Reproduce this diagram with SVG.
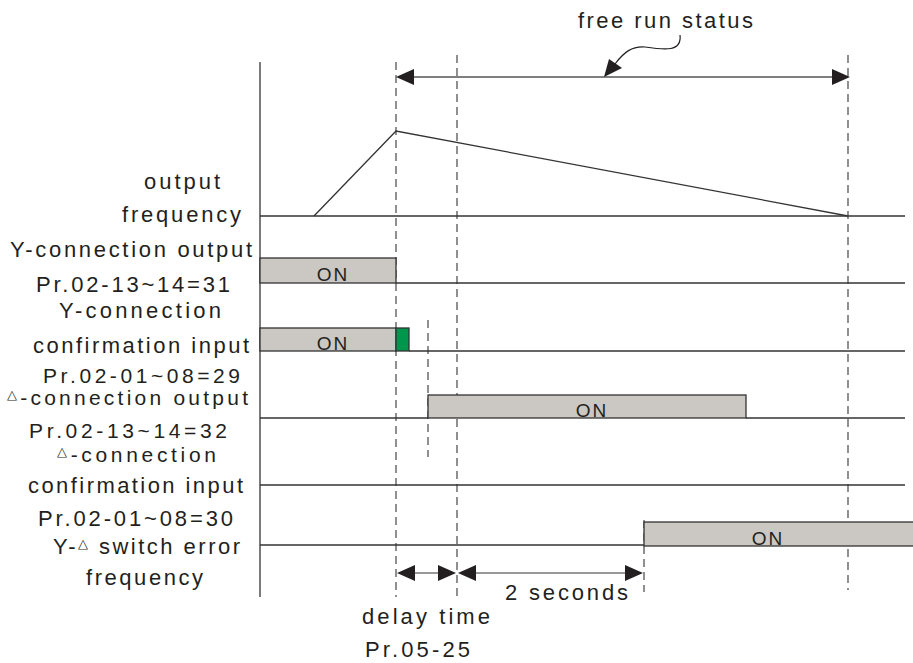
<svg xmlns="http://www.w3.org/2000/svg" width="913" height="663" viewBox="0 0 913 663">
<defs>
<style>
text{font-family:"Liberation Sans",Arial,sans-serif;fill:#231f20;}
.lbl{font-size:22px;}
.sm{font-size:21px;}
.on{font-size:19px;letter-spacing:2px;}
.base{stroke:#333;stroke-width:1.3;fill:none;}
.dash{stroke:#555;stroke-width:1.3;stroke-dasharray:8 5;fill:none;}
.bar{fill:#cbc7c3;stroke:#333;stroke-width:1.3;}
.ah{fill:#231f20;}
.dim{stroke:#777;stroke-width:1.5;fill:none;}
</style>
</defs>
<rect width="913" height="663" fill="#fff"/>

<g id="labels">
<text class="lbl" x="144" y="189" textLength="76" lengthAdjust="spacing">output</text>
<text class="lbl" x="122" y="222" textLength="119" lengthAdjust="spacing">frequency</text>
<text class="lbl" x="10" y="257" textLength="242" lengthAdjust="spacing">Y-connection output</text>
<text class="lbl" x="36" y="292" textLength="194" lengthAdjust="spacing">Pr.02-13~14=31</text>
<text class="lbl" x="59" y="318" textLength="162" lengthAdjust="spacing">Y-connection</text>
<text class="lbl" x="33" y="353" textLength="216" lengthAdjust="spacing">confirmation input</text>
<text class="lbl sm" x="43" y="383" textLength="197" lengthAdjust="spacing">Pr.02-01~08=29</text>
<text class="lbl sm" x="7" y="405" textLength="241" lengthAdjust="spacing"><tspan font-size="13" dy="-6">△</tspan><tspan dy="6">-connection output</tspan></text>
<text class="lbl sm" x="29" y="438" textLength="198" lengthAdjust="spacing">Pr.02-13~14=32</text>
<text class="lbl sm" x="57" y="462" textLength="159" lengthAdjust="spacing"><tspan font-size="13" dy="-6">△</tspan><tspan dy="6">-connection</tspan></text>
<text class="lbl" x="28" y="493" textLength="215" lengthAdjust="spacing">confirmation input</text>
<text class="lbl" x="38" y="526" textLength="195" lengthAdjust="spacing">Pr.02-01~08=30</text>
<text class="lbl" x="53" y="554" textLength="187" lengthAdjust="spacing">Y-<tspan font-size="13" dy="-6">△</tspan><tspan dy="6"> switch error</tspan></text>
<text class="lbl" x="86" y="585" textLength="117" lengthAdjust="spacing">frequency</text>
</g>

<g id="axis">
<line class="base" x1="260" y1="62" x2="260" y2="597"/>
</g>

<g id="guides">
<line class="dash" x1="396" y1="62" x2="396" y2="597"/>
<line class="dash" x1="457" y1="55" x2="457" y2="597"/>
<line class="dash" x1="848" y1="55" x2="848" y2="590"/>
<line class="dash" x1="428" y1="320" x2="428" y2="457"/>
<line class="dash" x1="644" y1="520" x2="644" y2="592"/>
</g>

<g id="output-frequency">
<line class="base" x1="260" y1="216" x2="905" y2="216"/>
<polyline class="base" points="314,216 396,131 848,216"/>
</g>

<g id="y-output">
<line class="base" x1="396" y1="283" x2="905" y2="283"/>
<rect class="bar" x="260" y="258" width="136" height="25"/>
<text class="on" x="333" y="281" text-anchor="middle">ON</text>
</g>

<g id="y-confirm">
<line class="base" x1="409" y1="351" x2="905" y2="351"/>
<rect class="bar" x="260" y="328" width="136" height="23"/>
<rect x="396" y="328" width="13" height="23" fill="#00964b" stroke="#333" stroke-width="1.3"/>
<text class="on" x="333" y="350" text-anchor="middle">ON</text>
</g>

<g id="d-output">
<line class="base" x1="260" y1="418" x2="428" y2="418"/>
<line class="base" x1="746" y1="418" x2="905" y2="418"/>
<rect class="bar" x="428" y="395" width="318" height="23"/>
<text class="on" x="592" y="417" text-anchor="middle">ON</text>
</g>

<g id="d-confirm">
<line class="base" x1="260" y1="485" x2="905" y2="485"/>
</g>

<g id="switch-error">
<line class="base" x1="260" y1="545" x2="644" y2="545"/>
<rect class="bar" x="644" y="522" width="275" height="24"/>
<text class="on" x="768" y="545" text-anchor="middle">ON</text>
</g>

<g id="connectors">
<line x1="410" y1="77" x2="836" y2="77" stroke="#555" stroke-width="1.5"/>
<polygon class="ah" points="396,77 414,69 414,85"/>
<polygon class="ah" points="850,77 832,69 832,85"/>
<path d="M680,35 C682,52 665,50 645,47 C632,46 624,52 615,64" fill="none" stroke="#231f20" stroke-width="1.2"/>
<polygon class="ah" points="604,77 609,59 622,68"/>
<line class="dim" x1="410" y1="573" x2="443" y2="573"/>
<polygon class="ah" points="397,573 415,565 415,581"/>
<polygon class="ah" points="456,573 438,565 438,581"/>
<line class="dim" x1="472" y1="573" x2="628" y2="573"/>
<polygon class="ah" points="458,573 476,565 476,581"/>
<polygon class="ah" points="643,573 625,565 625,581"/>
</g>

<g id="annotations">
<text class="lbl" x="578" y="28" textLength="175" lengthAdjust="spacing">free run status</text>
<text class="lbl" x="362" y="624" textLength="128" lengthAdjust="spacing">delay time</text>
<text class="lbl" x="365" y="657" textLength="105" lengthAdjust="spacing">Pr.05-25</text>
<text class="lbl" x="505" y="600" textLength="123" lengthAdjust="spacing">2 seconds</text>
</g>
</svg>
